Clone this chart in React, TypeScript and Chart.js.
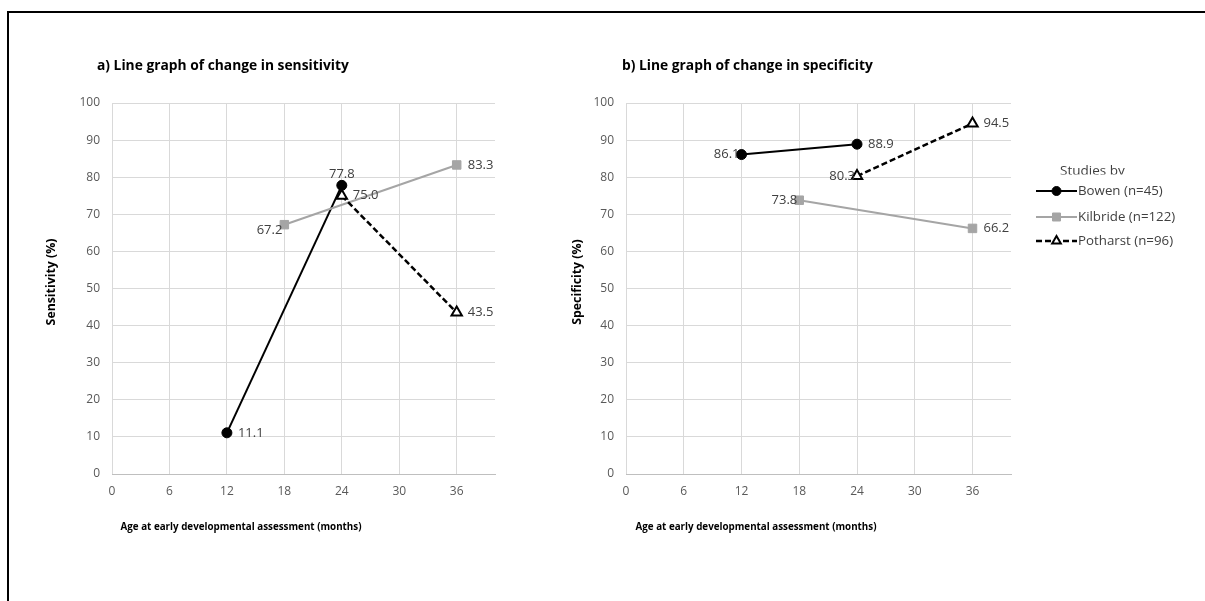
import React, { useEffect, useRef } from 'react';
import { Chart, registerables } from 'chart.js';

Chart.register(...registerables);

// ---------- data ----------
const ageTicks = [0, 6, 12, 18, 24, 30, 36];
const pctTicks = [0, 10, 20, 30, 40, 50, 60, 70, 80, 90, 100];

const seriesNames = ['Bowen (n=45)', 'Kilbride (n=122)', 'Potharst (n=96)'];
const legendTitle = 'Studies by';

const bowenAges = [12, 24];
const kilbrideAges = [18, 36];
const potharstAges = [24, 36];

const sensBowen = [11.1, 77.8];
const sensKilbride = [67.2, 83.3];
const sensPotharst = [75.0, 43.5];

const specBowen = [86.1, 88.9];
const specKilbride = [73.8, 66.2];
const specPotharst = [80.3, 94.5];

// label placement (style, not data)
const sensLabelPos = [['right', 'above'], ['leftBelow', 'right'], ['right', 'right']];
const specLabelPos = [['left', 'right'], ['left', 'right'], ['left', 'right']];

const titleA = 'a) Line graph of change in sensitivity';
const titleB = 'b) Line graph of change in specificity';
const xTitle = 'Age at early developmental assessment (months)';
const yTitleA = 'Sensitivity (%)';
const yTitleB = 'Specificity (%)';

const FONT = '"Open Sans", "Noto Sans", sans-serif';

const styles = [
  {
    borderColor: '#000000', borderWidth: 2, pointStyle: 'circle', pointRadius: 5,
    pointBackgroundColor: '#000000', pointBorderColor: '#000000', pointBorderWidth: 1, order: 2,
  },
  {
    borderColor: '#A5A5A5', borderWidth: 2, pointStyle: 'rect', pointRadius: 6,
    pointBackgroundColor: '#A5A5A5', pointBorderColor: '#A5A5A5', pointBorderWidth: 1, order: 1,
  },
  {
    borderColor: '#000000', borderWidth: 2.5, borderDash: [6, 3], pointStyle: 'triangle', pointRadius: 6,
    pointBackgroundColor: '#FFFFFF', pointBorderColor: '#000000', pointBorderWidth: 2, order: 0,
  },
];

function pts(xs: number[], ys: number[]) {
  return xs.map((x, i) => ({ x, y: ys[i] }));
}

function makeDatasets(b: number[], k: number[], p: number[], pos: string[][]) {
  const series = [pts(bowenAges, b), pts(kilbrideAges, k), pts(potharstAges, p)];
  return series.map((data, i) => ({
    label: seriesNames[i],
    data,
    labelPos: pos[i],
    fill: false,
    tension: 0,
    ...styles[i],
  }));
}

// ---------- plugins ----------
const dataLabelPlugin = {
  id: 'dataLabels',
  afterDatasetsDraw(chart: any) {
    const ctx = chart.ctx;
    ctx.save();
    ctx.font = `13px ${FONT}`;
    ctx.fillStyle = '#404040';
    ctx.textBaseline = 'middle';
    chart.data.datasets.forEach((ds: any, di: number) => {
      const meta = chart.getDatasetMeta(di);
      meta.data.forEach((pt: any, i: number) => {
        const text = Number(ds.data[i].y).toFixed(1);
        const pos = ds.labelPos[i];
        let x = pt.x;
        let y = pt.y;
        if (pos === 'right') { ctx.textAlign = 'left'; x += 11; }
        else if (pos === 'left') { ctx.textAlign = 'right'; x -= 2; }
        else if (pos === 'leftBelow') { ctx.textAlign = 'right'; x -= 2; y += 6; }
        else { ctx.textAlign = 'center'; y -= 11; }
        ctx.fillText(text, x, y);
      });
    });
    ctx.restore();
  },
};

function textPlugin(title: string, yTitle: string, t: { tx: number; ty: number; yx: number; yy: number; xx: number; xy: number }) {
  return {
    id: 'texts',
    afterDraw(chart: any) {
      const ctx = chart.ctx;
      ctx.save();
      ctx.fillStyle = '#000000';
      ctx.textBaseline = 'middle';
      ctx.font = `bold 13.8px ${FONT}`;
      ctx.textAlign = 'left';
      ctx.fillText(title, t.tx, t.ty);
      ctx.font = `bold 9.8px ${FONT}`;
      ctx.textAlign = 'center';
      ctx.fillText(xTitle, t.xx, t.xy);
      ctx.translate(t.yx, t.yy);
      ctx.rotate(-Math.PI / 2);
      ctx.font = `bold 12.3px ${FONT}`;
      ctx.fillText(yTitle, 0, 0);
      ctx.restore();
    },
  };
}

const legendPlugin = {
  id: 'customLegend',
  afterDraw(chart: any) {
    const ctx = chart.ctx;
    const x0 = 476; // line start (canvas coords)
    const x1 = 517;
    const mx = (x0 + x1) / 2;
    const rows = [191, 217, 241];
    ctx.save();
    // title, clipped at its baseline like the reference
    ctx.save();
    ctx.beginPath();
    ctx.rect(480, 150, 120, 24.5);
    ctx.clip();
    ctx.font = `13.5px ${FONT}`;
    ctx.fillStyle = '#404040';
    ctx.textAlign = 'left';
    ctx.textBaseline = 'alphabetic';
    ctx.fillText(legendTitle, 500, 174.5);
    ctx.restore();

    chart.data.datasets.forEach((ds: any, i: number) => {
      const y = rows[i];
      ctx.save();
      ctx.strokeStyle = ds.borderColor;
      ctx.lineWidth = ds.borderWidth;
      ctx.setLineDash(ds.borderDash || []);
      ctx.beginPath();
      ctx.moveTo(x0, y);
      ctx.lineTo(x1, y);
      ctx.stroke();
      ctx.setLineDash([]);
      ctx.fillStyle = ds.pointBackgroundColor;
      ctx.strokeStyle = ds.pointBorderColor;
      ctx.lineWidth = ds.pointBorderWidth;
      ctx.beginPath();
      if (ds.pointStyle === 'circle') {
        ctx.arc(mx, y, 4.5, 0, Math.PI * 2);
      } else if (ds.pointStyle === 'rect') {
        ctx.rect(mx - 4, y - 4, 8, 8);
      } else {
        const r = 5;
        ctx.moveTo(mx, y - r);
        ctx.lineTo(mx + r * 0.866, y + r * 0.5);
        ctx.lineTo(mx - r * 0.866, y + r * 0.5);
        ctx.closePath();
      }
      ctx.fill();
      ctx.stroke();
      ctx.restore();
      ctx.font = `13.3px ${FONT}`;
      ctx.fillStyle = '#404040';
      ctx.textAlign = 'left';
      ctx.textBaseline = 'middle';
      ctx.fillText(ds.label, x1 + 1, y);
    });
    ctx.restore();
  },
};

function makeConfig(datasets: any[], yWidth: number, padRight: number, plugins: any[]) {
  return {
    type: 'line' as const,
    data: { datasets },
    options: {
      responsive: false,
      animation: false,
      events: [],
      layout: { padding: { left: 0, top: 103, right: padRight, bottom: 97 } },
      plugins: { legend: { display: false }, tooltip: { enabled: false }, title: { display: false } },
      scales: {
        x: {
          type: 'linear',
          min: 0,
          max: 40,
          afterBuildTicks: (s: any) => { s.ticks = ageTicks.map((v) => ({ value: v })); },
          afterFit: (s: any) => { s.height = 30; },
          grid: { color: '#D9D9D9', lineWidth: 1, drawTicks: false },
          border: { display: true, color: '#BFBFBF', width: 1 },
          ticks: { color: '#595959', font: { family: FONT, size: 12 }, padding: 10, autoSkip: false, maxRotation: 0 },
        },
        y: {
          type: 'linear',
          min: 0,
          max: 100,
          afterBuildTicks: (s: any) => { s.ticks = pctTicks.map((v) => ({ value: v })); },
          afterFit: (s: any) => { s.width = yWidth; },
          grid: { color: '#D9D9D9', lineWidth: 1, drawTicks: false },
          border: { display: false },
          ticks: { color: '#595959', font: { family: FONT, size: 12 }, padding: 12 },
        },
      },
    },
    plugins,
  };
}

export default function App() {
  const leftRef = useRef<HTMLCanvasElement>(null);
  const rightRef = useRef<HTMLCanvasElement>(null);

  useEffect(() => {
    const left = new Chart(
      leftRef.current as HTMLCanvasElement,
      makeConfig(
        makeDatasets(sensBowen, sensKilbride, sensPotharst, sensLabelPos),
        112,
        65,
        [dataLabelPlugin, textPlugin(titleA, yTitleA, { tx: 97, ty: 66, yx: 51, yy: 282, xx: 241, xy: 527 })]
      ) as any
    );
    const right = new Chart(
      rightRef.current as HTMLCanvasElement,
      makeConfig(
        makeDatasets(specBowen, specKilbride, specPotharst, specLabelPos),
        66,
        194,
        [dataLabelPlugin, legendPlugin, textPlugin(titleB, yTitleB, { tx: 62, ty: 66, yx: 17, yy: 282, xx: 196, xy: 527 })]
      ) as any
    );
    return () => {
      left.destroy();
      right.destroy();
    };
  }, []);

  return (
    <div style={{ position: 'fixed', left: 0, top: 0, width: 1205, height: 601, background: '#FFFFFF', overflow: 'hidden' }}>
      <div
        style={{
          position: 'absolute', left: 7, top: 11, width: 1400, height: 800,
          borderTop: '2px solid #000000', borderLeft: '2px solid #000000',
        }}
      />
      <canvas ref={leftRef} width={560} height={601} style={{ position: 'absolute', left: 0, top: 0, width: 560, height: 601 }} />
      <canvas ref={rightRef} width={645} height={601} style={{ position: 'absolute', left: 560, top: 0, width: 645, height: 601 }} />
    </div>
  );
}
